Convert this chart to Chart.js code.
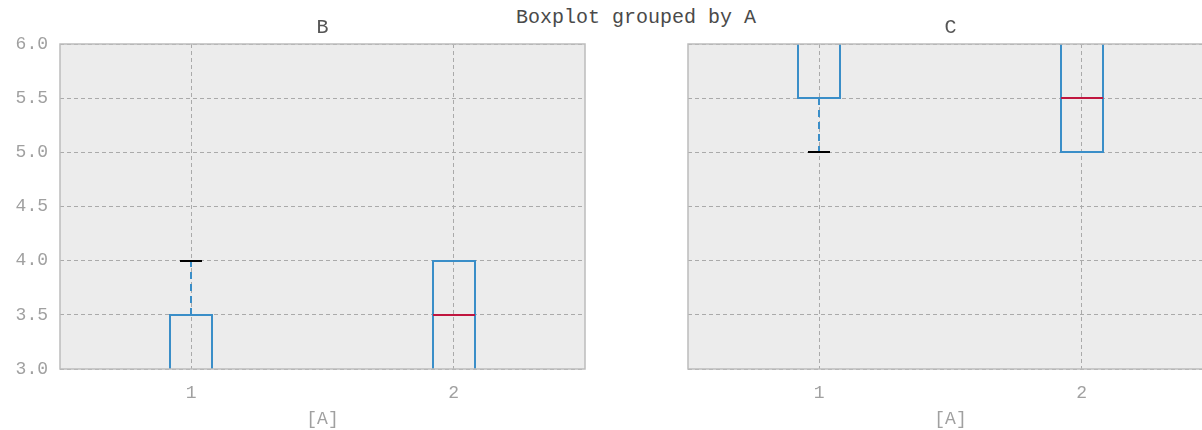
<!DOCTYPE html>
<html>
<head>
<meta charset="utf-8">
<script src="https://cdn.jsdelivr.net/npm/chart.js@4.4.0/dist/chart.umd.min.js"></script>
<style>
body { margin:0; width:1202px; height:430px; overflow:hidden; position:relative; background:#fff; }
#suptitle { position:absolute; left:436px; width:400px; top:8px; text-align:center; font:20px 'Liberation Mono', monospace; color:#4a4a4a; line-height:20px; }
.panel { position:absolute; top:0; width:600px; height:430px; }
</style>
</head>
<body>
<div id="suptitle">Boxplot grouped by A</div>
<div class="panel" style="left:0"><canvas id="boxB" width="600" height="430"></canvas></div>
<div class="panel" style="left:628px"><canvas id="boxC" width="600" height="430"></canvas></div>
<script>
// groups of column A
var groups = ['1', '2'];
var yTicks = [3.0, 3.5, 4.0, 4.5, 5.0, 5.5, 6.0];

// column B per group: whisker low, q1, median, q3, whisker high
var bLow  = [2.0, 2.0];
var bQ1   = [2.25, 2.5];
var bMed  = [2.5, 3.5];
var bQ3   = [3.5, 4.0];
var bHigh = [4.0, 4.0];

// column C per group
var cLow  = [5.0, 5.0];
var cQ1   = [5.5, 5.0];
var cMed  = [6.5, 5.5];
var cQ3   = [7.0, 6.5];
var cHigh = [7.5, 7.0];

var MONO = "'Liberation Mono', 'DejaVu Sans Mono', monospace";
var BOX_BLUE = '#3a8ec8';
var MEDIAN_RED = '#c0163f';

// grey panel + frame around the plot area
var panelPlugin = {
	id: 'panel',
	beforeDraw: function(chart) {
		var a = chart.chartArea, ctx = chart.ctx;
		ctx.save();
		ctx.fillStyle = '#ececec';
		ctx.fillRect(a.left, a.top, a.right - a.left, a.bottom - a.top);
		ctx.restore();
	},
	afterDraw: function(chart) {
		var a = chart.chartArea, ctx = chart.ctx;
		ctx.save();
		ctx.strokeStyle = '#bcbcbc';
		ctx.lineWidth = 1.5;
		ctx.strokeRect(a.left, a.top, a.right - a.left, a.bottom - a.top);
		ctx.restore();
	}
};

// whiskers, caps, boxes and medians, drawn on top of the bar geometry
var boxplotPlugin = {
	id: 'boxplot',
	afterDatasetsDraw: function(chart) {
		var ds = chart.data.datasets[0];
		var st = ds.stats;
		var meta = chart.getDatasetMeta(0);
		var y = chart.scales.y;
		var a = chart.chartArea, ctx = chart.ctx;
		var py = function(v) { return Math.round(y.getPixelForValue(v)); };
		ctx.save();
		ctx.beginPath();
		ctx.rect(a.left, a.top, a.right - a.left, a.bottom - a.top);
		ctx.clip();
		ctx.lineWidth = 2;
		meta.data.forEach(function(bar, i) {
			var x = Math.round(bar.x);
			var half = Math.round(bar.width / 2);
			var capHalf = Math.round(half / 2);
			var pLow = py(st.low[i]);
			var pQ1 = py(st.q1[i]);
			var pMed = py(st.med[i]);
			var pQ3 = py(st.q3[i]);
			var pHigh = py(st.high[i]);

			// whiskers
			ctx.strokeStyle = BOX_BLUE;
			ctx.setLineDash([7, 5]);
			ctx.beginPath();
			ctx.moveTo(x, pQ1); ctx.lineTo(x, pLow);
			ctx.moveTo(x, pQ3); ctx.lineTo(x, pHigh);
			ctx.stroke();
			ctx.setLineDash([]);

			// caps
			ctx.strokeStyle = '#000';
			ctx.beginPath();
			ctx.moveTo(x - capHalf, pLow); ctx.lineTo(x + capHalf, pLow);
			ctx.moveTo(x - capHalf, pHigh); ctx.lineTo(x + capHalf, pHigh);
			ctx.stroke();

			// box
			ctx.strokeStyle = BOX_BLUE;
			ctx.strokeRect(x - half, pQ3, half * 2, pQ1 - pQ3);

			// median
			ctx.strokeStyle = MEDIAN_RED;
			ctx.beginPath();
			ctx.moveTo(x - half, pMed); ctx.lineTo(x + half, pMed);
			ctx.stroke();
		});
		ctx.restore();
	}
};

function makeBoxChart(id, title, low, q1, med, q3, high, showYTicks) {
	var boxes = [];
	for (var i = 0; i < groups.length; i++) {
		boxes.push([q1[i], q3[i]]);
	}
	return new Chart(document.getElementById(id), {
		type: 'bar',
		data: {
			labels: groups,
			datasets: [{
				label: title,
				data: boxes,
				stats: { low: low, q1: q1, med: med, q3: q3, high: high },
				backgroundColor: 'rgba(0,0,0,0)',
				borderWidth: 0,
				barThickness: 41
			}]
		},
		options: {
			responsive: false,
			animation: false,
			layout: { padding: { left: 0, right: 15, top: 0, bottom: 0 } },
			plugins: {
				legend: { display: false },
				tooltip: { enabled: false },
				title: {
					display: true,
					text: title,
					fullSize: false,
					color: '#555',
					font: { family: MONO, size: 20, weight: 'normal' },
					padding: { top: 16, bottom: 4 }
				}
			},
			scales: {
				x: {
					type: 'category',
					offset: true,
					grid: { offset: false, color: '#aaaaaa', drawTicks: false },
					border: { display: false, dash: [4, 3] },
					ticks: { color: '#a0a0a0', padding: 13, font: { family: MONO, size: 18 } },
					title: {
						display: true,
						text: '[A]',
						color: '#a0a0a0',
						font: { family: MONO, size: 18 },
						padding: { top: 2, bottom: 0 }
					},
					afterFit: function(s) { s.height = 61; }
				},
				y: {
					min: 3,
					max: 6,
					grid: { color: '#aaaaaa', drawTicks: false },
					border: { display: false, dash: [4, 3] },
					afterBuildTicks: function(s) {
						s.ticks = yTicks.map(function(v) { return { value: v }; });
					},
					ticks: {
						display: showYTicks,
						color: '#a0a0a0',
						padding: 12,
						font: { family: MONO, size: 18 },
						callback: function(v) { return Number(v).toFixed(1); }
					},
					afterFit: function(s) { s.width = 60; }
				}
			}
		},
		plugins: [panelPlugin, boxplotPlugin]
	});
}

makeBoxChart('boxB', 'B', bLow, bQ1, bMed, bQ3, bHigh, true);
makeBoxChart('boxC', 'C', cLow, cQ1, cMed, cQ3, cHigh, false);
</script>
</body>
</html>
